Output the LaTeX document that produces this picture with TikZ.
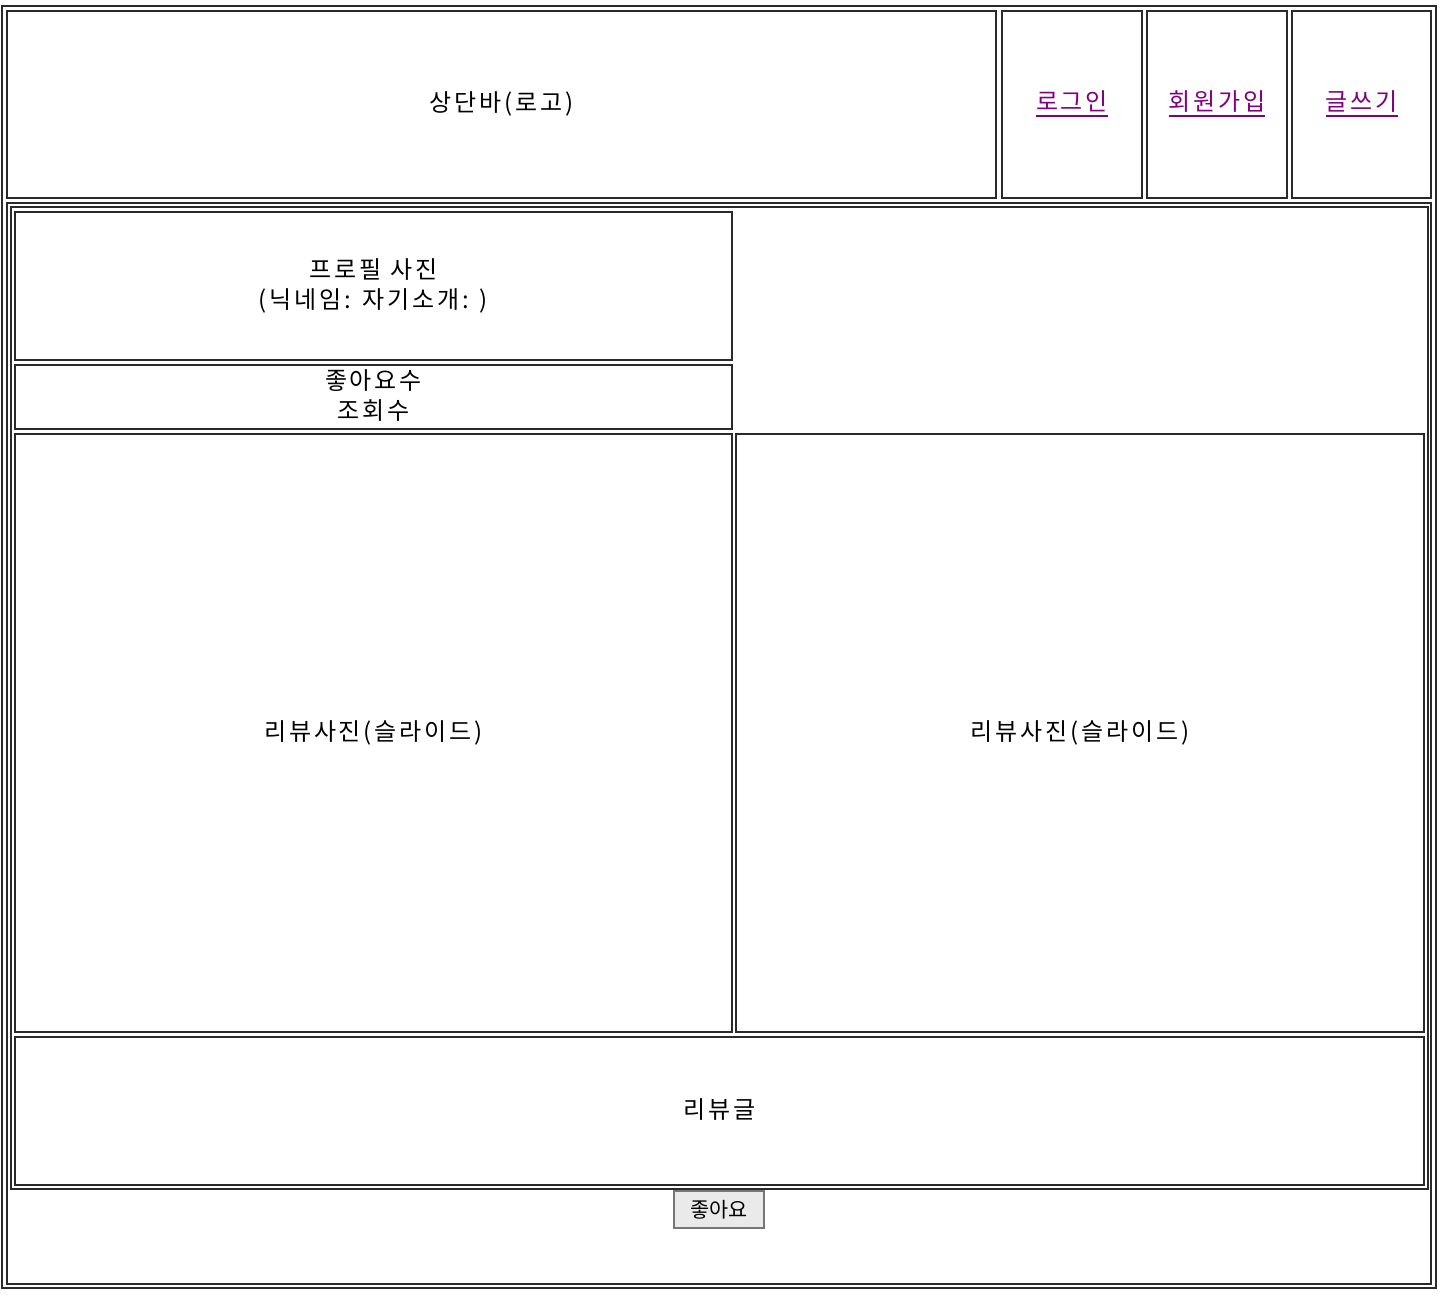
\documentclass[tikz,border=0pt]{standalone}
\usepackage{fontspec}
\setmainfont{Noto Sans CJK KR}[LetterSpace=12]
\newfontfamily\btnfont{Noto Sans CJK KR}
\usepackage{tikz}
\usetikzlibrary{positioning}
\definecolor{celline}{HTML}{2A2A2A}
\definecolor{linkpurple}{HTML}{800080}
\definecolor{btnline}{HTML}{767676}
\definecolor{btnbg}{HTML}{EAEAEA}
\newcommand\linkul[1]{\setbox0\hbox{#1}\rlap{\rule[-3pt]{\wd0}{1pt}}\box0}

\tikzset{
  cellbox/.style={draw=celline,line width=1pt},
  celltext/.style={font=\fontsize{12pt}{15pt}\selectfont,align=center,inner sep=0pt},
  linktext/.style={celltext,text=linkpurple},
  likebutton/.style={draw=btnline,fill=btnbg,line width=1pt,inner sep=0pt,
    minimum width=45pt,minimum height=18.5pt,font=\btnfont\fontsize{10.4pt}{12pt}\selectfont},
}

\begin{document}
\begin{tikzpicture}[x=0.5pt,y=-0.5pt]
  \useasboundingbox (0,0) rectangle (1442,1296);
  % outer table and its second row
  \draw[cellbox] (2,6) rectangle (1436,1288);
  \draw[cellbox] (7,203) rectangle (1431,1284);
  % top bar
  \foreach \name/\xa/\xb/\lab/\sty in {
      logo/7/996/{상단바(로고)}/celltext,
      login/1002/1142/{\linkul{로그인}}/linktext,
      join/1147/1287/{\linkul{회원가입}}/linktext,
      write/1292/1431/{\linkul{글쓰기}}/linktext} {
    \draw[cellbox] (\xa,11) rectangle (\xb,198);
    \node[\sty] (\name) at ({(\xa+\xb)/2},104) {\lab};
  }
  % review page
  \draw[cellbox] (11,207) rectangle (1428,1189);
  \foreach \name/\xa/\ya/\xb/\yb/\ty/\lab in {
      profile/15/212/732/360/286/{프로필 사진\\(닉네임: 자기소개: )},
      counts/15/365/732/429/396/{좋아요수\\조회수},
      photoa/15/434/732/1032/733/{리뷰사진(슬라이드)},
      photob/736/434/1424/1032/733/{리뷰사진(슬라이드)},
      review/15/1037/1424/1185/1110/{리뷰글}} {
    \draw[cellbox] (\xa,\ya) rectangle (\xb,\yb);
    \node[celltext] (\name) at ({(\xa+\xb)/2},\ty) {\lab};
  }
  \node[likebutton] (likebtn) at (719,1209.5) {좋아요};
\end{tikzpicture}
\end{document}
